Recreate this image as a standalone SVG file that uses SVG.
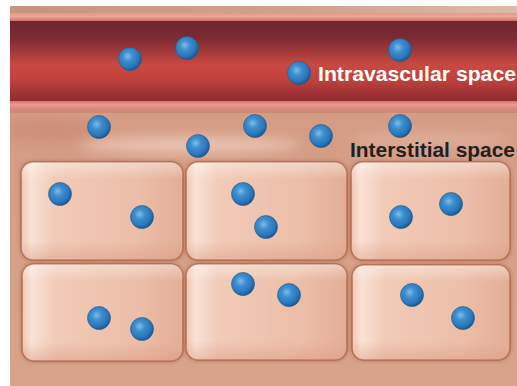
<svg xmlns="http://www.w3.org/2000/svg" width="517" height="386" viewBox="0 0 517 386">
  <defs>
    <clipPath id="frame">
      <rect x="10" y="6" width="507" height="380"/>
    </clipPath>
    <linearGradient id="topStrip" x1="0" y1="0" x2="1" y2="0">
      <stop offset="0" stop-color="#c69580"/>
      <stop offset="0.6" stop-color="#cfa38e"/>
      <stop offset="1" stop-color="#dcbba9"/>
    </linearGradient>
    <linearGradient id="wallTop" x1="0" y1="0" x2="0" y2="1">
      <stop offset="0" stop-color="#e7978c"/>
      <stop offset="0.45" stop-color="#eea59a"/>
      <stop offset="1" stop-color="#d36f69"/>
    </linearGradient>
    <linearGradient id="wallBottom" x1="0" y1="0" x2="0" y2="1">
      <stop offset="0" stop-color="#d9746d"/>
      <stop offset="0.4" stop-color="#eb998f"/>
      <stop offset="1" stop-color="#dc8077"/>
    </linearGradient>
    <linearGradient id="lumen" x1="0" y1="0" x2="0" y2="1">
      <stop offset="0" stop-color="#6b2631"/>
      <stop offset="0.22" stop-color="#7e2b33"/>
      <stop offset="0.55" stop-color="#c94941"/>
      <stop offset="0.72" stop-color="#c1433e"/>
      <stop offset="1" stop-color="#8e2c31"/>
    </linearGradient>
    <linearGradient id="tissue" x1="0" y1="0" x2="0" y2="1">
      <stop offset="0" stop-color="#c98573"/>
      <stop offset="0.15" stop-color="#d49a84"/>
      <stop offset="1" stop-color="#d8a38b"/>
    </linearGradient>
    <linearGradient id="cellFill" x1="0" y1="0" x2="1" y2="0">
      <stop offset="0" stop-color="#f0c6b2"/>
      <stop offset="0.06" stop-color="#f9e2d6"/>
      <stop offset="0.2" stop-color="#f2cbb8"/>
      <stop offset="0.7" stop-color="#ecbea9"/>
      <stop offset="1" stop-color="#e4ae97"/>
    </linearGradient>
    <linearGradient id="cellShade" x1="0" y1="0" x2="0" y2="1">
      <stop offset="0" stop-color="#ffffff" stop-opacity="0.4"/>
      <stop offset="0.18" stop-color="#ffffff" stop-opacity="0"/>
      <stop offset="0.8" stop-color="#d9977e" stop-opacity="0"/>
      <stop offset="1" stop-color="#d9977e" stop-opacity="0.45"/>
    </linearGradient>
    <radialGradient id="ball" cx="0.4" cy="0.38" r="0.62">
      <stop offset="0" stop-color="#7fbde9"/>
      <stop offset="0.35" stop-color="#3f8fd0"/>
      <stop offset="0.8" stop-color="#2a75b8"/>
      <stop offset="1" stop-color="#1d5a94"/>
    </radialGradient>
    <filter id="soft" x="-20%" y="-50%" width="140%" height="200%">
      <feGaussianBlur stdDeviation="6"/>
    </filter>
    <filter id="edge" x="-5%" y="-5%" width="110%" height="110%">
      <feGaussianBlur stdDeviation="1.5"/>
    </filter>
  </defs>
  <style>
    .cell-body { fill: url(#cellFill); stroke: #ad6a4c; stroke-width: 1.4; }
    .cell-shade { fill: url(#cellShade); }
    .cell-halo { fill: none; stroke: #b9775b; stroke-width: 4; opacity: 0.55; }
    .particle { fill: url(#ball); stroke: #1f5a8e; stroke-width: 0.6; }
    .label { font-family: "Liberation Sans", Arial, Helvetica, sans-serif; font-weight: bold; font-size: 21px; }
  </style>

  <!-- page background -->
  <rect width="517" height="386" fill="#ffffff"/>

  <!-- interstitial tissue -->
  <g id="interstitium" clip-path="url(#frame)">
    <rect x="10" y="6" width="507" height="380" fill="url(#tissue)"/>
    <ellipse cx="190" cy="145" rx="110" ry="9" fill="#f2d5c6" opacity="0.65" filter="url(#soft)"/>
    <ellipse cx="430" cy="140" rx="80" ry="8" fill="#e3b7a2" opacity="0.6" filter="url(#soft)"/>
    <ellipse cx="50" cy="130" rx="50" ry="12" fill="#c88370" opacity="0.5" filter="url(#soft)"/>
  </g>

  <!-- blood vessel -->
  <g id="vessel">
    <rect x="10" y="6" width="507" height="7" fill="url(#topStrip)"/>
    <rect x="10" y="13" width="507" height="8" fill="url(#wallTop)"/>
    <rect x="10" y="21" width="507" height="80" fill="url(#lumen)"/>
    <rect x="10" y="101" width="507" height="9" fill="url(#wallBottom)"/>
    <rect x="10" y="110" width="507" height="3" fill="#c07a6a" opacity="0.5"/>
  </g>

  <!-- tissue cells -->
  <g id="cell-1-1">
    <rect class="cell-halo" x="21" y="162" width="162" height="98" rx="12" filter="url(#edge)"/>
    <rect class="cell-body" x="21" y="162" width="162" height="98" rx="12"/>
    <rect class="cell-shade" x="21" y="162" width="162" height="98" rx="12"/>
  </g>
  <g id="cell-1-2">
    <rect class="cell-halo" x="186" y="162" width="161" height="98" rx="12" filter="url(#edge)"/>
    <rect class="cell-body" x="186" y="162" width="161" height="98" rx="12"/>
    <rect class="cell-shade" x="186" y="162" width="161" height="98" rx="12"/>
  </g>
  <g id="cell-1-3">
    <rect class="cell-halo" x="351" y="162" width="159" height="98" rx="12" filter="url(#edge)"/>
    <rect class="cell-body" x="351" y="162" width="159" height="98" rx="12"/>
    <rect class="cell-shade" x="351" y="162" width="159" height="98" rx="12"/>
  </g>
  <g id="cell-2-1">
    <rect class="cell-halo" x="22" y="264" width="161" height="97" rx="12" filter="url(#edge)"/>
    <rect class="cell-body" x="22" y="264" width="161" height="97" rx="12"/>
    <rect class="cell-shade" x="22" y="264" width="161" height="97" rx="12"/>
  </g>
  <g id="cell-2-2">
    <rect class="cell-halo" x="186" y="264" width="161" height="96" rx="12" filter="url(#edge)"/>
    <rect class="cell-body" x="186" y="264" width="161" height="96" rx="12"/>
    <rect class="cell-shade" x="186" y="264" width="161" height="96" rx="12"/>
  </g>
  <g id="cell-2-3">
    <rect class="cell-halo" x="352" y="265" width="158" height="95" rx="12" filter="url(#edge)"/>
    <rect class="cell-body" x="352" y="265" width="158" height="95" rx="12"/>
    <rect class="cell-shade" x="352" y="265" width="158" height="95" rx="12"/>
  </g>

  <!-- solute particles -->
  <g id="particles-intravascular">
    <circle class="particle" cx="130" cy="59" r="11.5"/>
    <circle class="particle" cx="187" cy="48" r="11.5"/>
    <circle class="particle" cx="400" cy="50" r="11.5"/>
    <circle class="particle" cx="299" cy="73" r="11.5"/>
  </g>
  <g id="particles-interstitial">
    <circle class="particle" cx="99" cy="127" r="11.5"/>
    <circle class="particle" cx="198" cy="146" r="11.5"/>
    <circle class="particle" cx="255" cy="126" r="11.5"/>
    <circle class="particle" cx="321" cy="136" r="11.5"/>
    <circle class="particle" cx="400" cy="126" r="11.5"/>
  </g>
  <g id="particles-intracellular">
    <circle class="particle" cx="60" cy="194" r="11.5"/>
    <circle class="particle" cx="142" cy="217" r="11.5"/>
    <circle class="particle" cx="243" cy="194" r="11.5"/>
    <circle class="particle" cx="266" cy="227" r="11.5"/>
    <circle class="particle" cx="401" cy="217" r="11.5"/>
    <circle class="particle" cx="451" cy="204" r="11.5"/>
    <circle class="particle" cx="99" cy="318" r="11.5"/>
    <circle class="particle" cx="142" cy="329" r="11.5"/>
    <circle class="particle" cx="243" cy="284" r="11.5"/>
    <circle class="particle" cx="289" cy="295" r="11.5"/>
    <circle class="particle" cx="412" cy="295" r="11.5"/>
    <circle class="particle" cx="463" cy="318" r="11.5"/>
  </g>

  <!-- compartment labels -->
  <g id="labels">
    <text class="label" x="318" y="80.5" fill="#ffffff" textLength="198" lengthAdjust="spacingAndGlyphs">Intravascular space</text>
    <text class="label" x="350" y="157" fill="#231f20" textLength="165" lengthAdjust="spacingAndGlyphs">Interstitial space</text>
  </g>
</svg>
